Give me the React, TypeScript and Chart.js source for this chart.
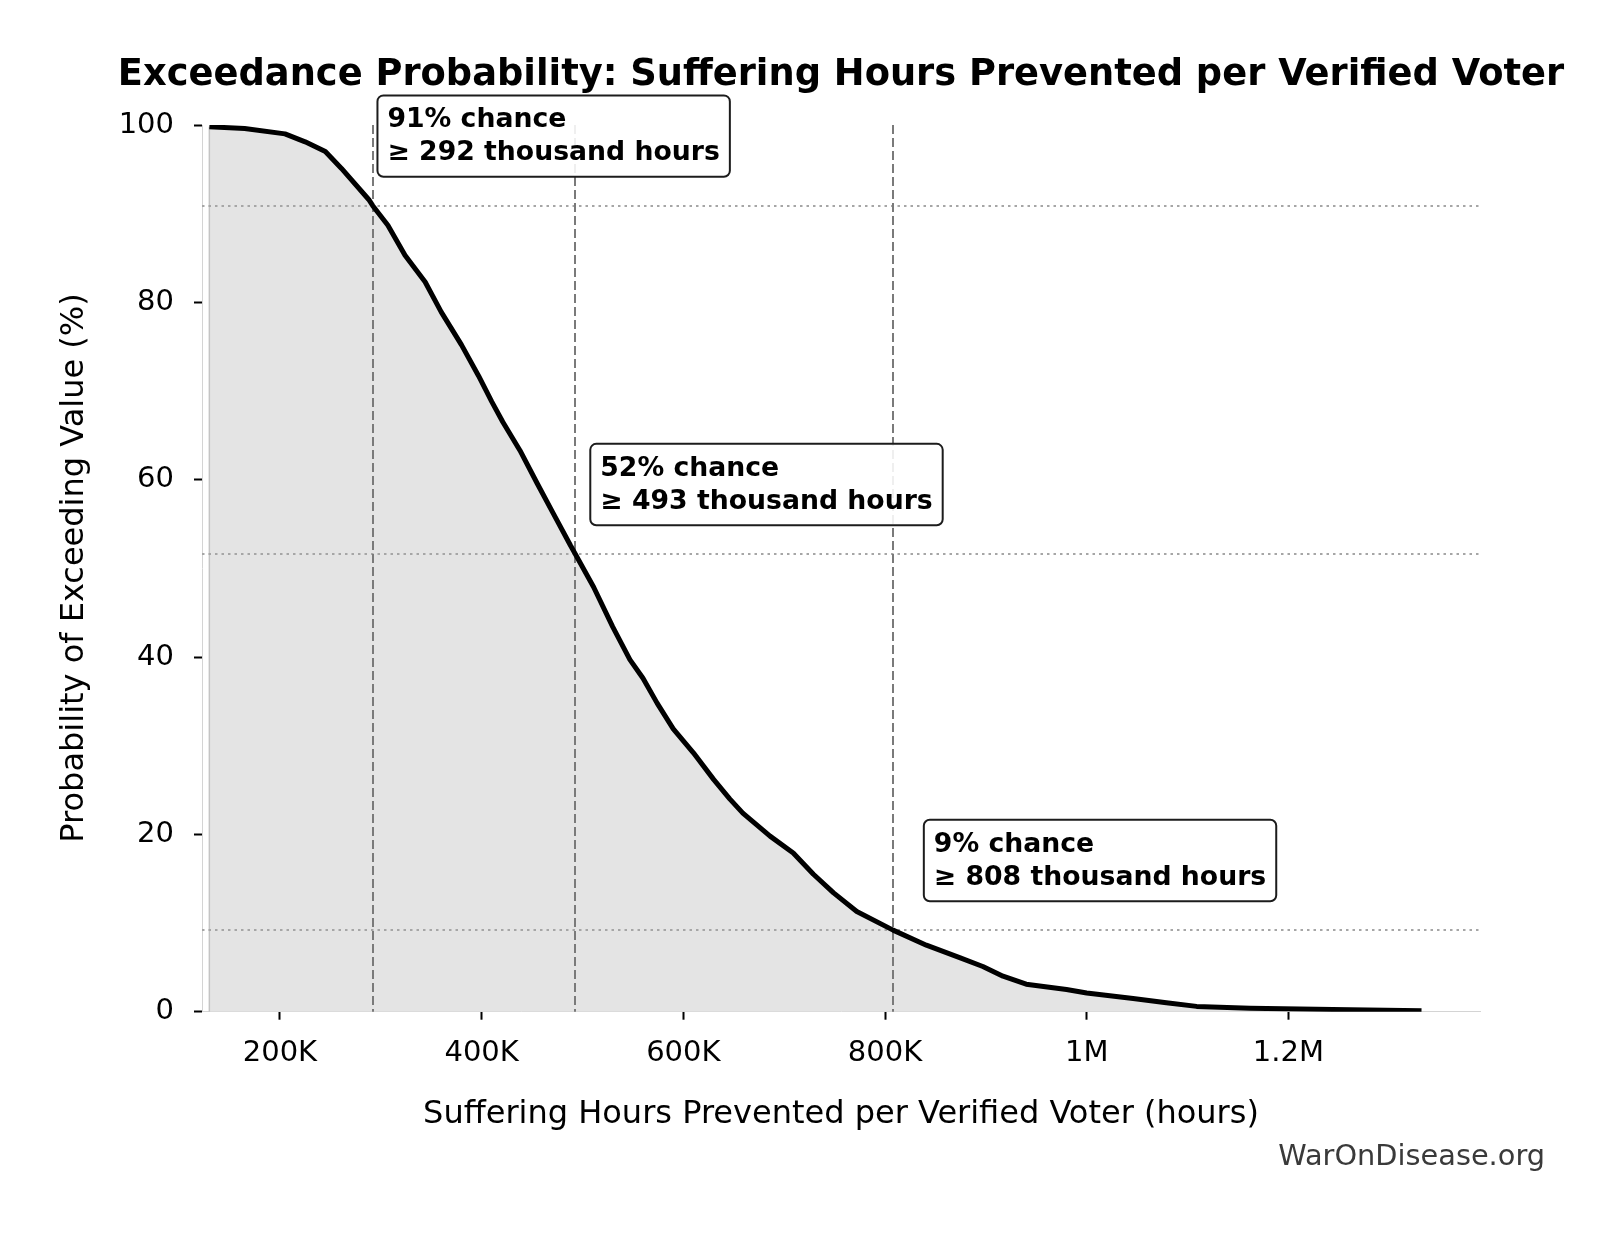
import React, { useEffect, useRef } from "react";
import { Chart, registerables } from "chart.js";

Chart.register(...registerables);

// Exceedance curve: hours prevented (thousands) vs probability of exceeding (%)
const hoursK = [
  130, 165, 205, 225, 245, 261, 288, 292, 307, 324, 344, 360, 380, 397, 410, 421,
  438, 455, 471, 488, 493, 511, 530, 547, 560, 574, 590, 610, 630, 646, 659, 686,
  709, 729, 749, 772, 808, 841, 874, 897, 917, 940, 980, 1000, 1046, 1079, 1109,
  1162, 1244, 1332,
];
const exceedPct = [
  99.8, 99.6, 99.0, 98.1, 97.0, 95.1, 91.6, 90.9, 88.7, 85.3, 82.3, 78.9, 75.2, 71.7,
  68.8, 66.5, 63.3, 59.6, 56.2, 52.6, 51.6, 47.9, 43.4, 39.7, 37.6, 34.8, 31.9, 29.2,
  26.2, 24.0, 22.4, 19.8, 17.9, 15.5, 13.4, 11.3, 9.2, 7.5, 6.1, 5.1, 4.0, 3.1, 2.5,
  2.1, 1.5, 1.0, 0.6, 0.4, 0.25, 0.1,
];

// Highlighted thresholds (hours in thousands, probability in %)
const markerHoursK = [292, 493, 808];
const markerPct = [90.9, 51.6, 9.2];

// Axis ticks
const xTickValues = [200000, 400000, 600000, 800000, 1000000, 1200000];
const xTickLabels = ["200K", "400K", "600K", "800K", "1M", "1.2M"];
const yTickValues = [0, 20, 40, 60, 80, 100];

const TITLE = "Exceedance Probability: Suffering Hours Prevented per Verified Voter";
const X_LABEL = "Suffering Hours Prevented per Verified Voter (hours)";
const Y_LABEL = "Probability of Exceeding Value (%)";
const WATERMARK = "WarOnDisease.org";

const FONT = '"DejaVu Sans", "Liberation Sans", sans-serif';
const W = 1623;
const H = 1233;

const points = hoursK.map((h, i) => ({ x: h * 1000, y: exceedPct[i] }));

const overlayPlugin = {
  id: "exceedanceOverlay",
  beforeDatasetDraw(chart: any, args: any) {
    if (args.index !== 0) return;
    const { ctx, chartArea: a } = chart;
    const xs = chart.scales.x;
    const ys = chart.scales.y;
    ctx.save();

    // left edge of the shaded area
    const x0 = xs.getPixelForValue(points[0].x);
    ctx.strokeStyle = "#c4c4c4";
    ctx.lineWidth = 1.5;
    ctx.beginPath();
    ctx.moveTo(x0, ys.getPixelForValue(points[0].y));
    ctx.lineTo(x0, a.bottom);
    ctx.stroke();

    // horizontal dotted guides at each probability level
    ctx.setLineDash([2.5, 4]);
    ctx.strokeStyle = "#a6a6a6";
    ctx.lineWidth = 2;
    markerPct.forEach((p) => {
      const yp = Math.round(ys.getPixelForValue(p));
      ctx.beginPath();
      ctx.moveTo(a.left, yp);
      ctx.lineTo(a.right, yp);
      ctx.stroke();
    });

    // vertical dashed guides at each threshold
    ctx.setLineDash([9, 4]);
    ctx.strokeStyle = "#7a7a7a";
    ctx.lineWidth = 2;
    markerHoursK.forEach((h) => {
      const xp = Math.round(xs.getPixelForValue(h * 1000));
      ctx.beginPath();
      ctx.moveTo(xp, a.top);
      ctx.lineTo(xp, a.bottom);
      ctx.stroke();
    });
    ctx.restore();
  },
  afterDraw(chart: any) {
    const { ctx, chartArea: a } = chart;
    const xs = chart.scales.x;
    const ys = chart.scales.y;
    ctx.save();

    // annotation boxes
    const fs = 26.7;
    ctx.font = `bold ${fs}px ${FONT}`;
    markerHoursK.forEach((h, i) => {
      const lines = [`${Math.round(markerPct[i])}% chance`, `\u2265 ${h} thousand hours`];
      const tx = xs.getPixelForValue(h * 1000 * 1.05);
      const cy = ys.getPixelForValue(markerPct[i] + 7.85);
      const pad = 10;
      const bw = Math.max(...lines.map((l) => ctx.measureText(l).width)) + pad * 2;
      const bh = 81.4;
      const left = tx - pad;
      const top = cy - bh / 2;
      ctx.beginPath();
      ctx.roundRect(left, top, bw, bh, 6);
      ctx.fillStyle = "rgba(255,255,255,0.88)";
      ctx.fill();
      ctx.strokeStyle = "#1c1c1c";
      ctx.lineWidth = 2;
      ctx.stroke();
      ctx.fillStyle = "#000";
      ctx.textAlign = "left";
      ctx.textBaseline = "alphabetic";
      ctx.fillText(lines[0], tx, top + 31.7);
      ctx.fillText(lines[1], tx, top + 64.7);
    });

    const cx = (a.left + a.right) / 2;

    // title
    ctx.fillStyle = "#000";
    ctx.font = `bold 36.8px ${FONT}`;
    ctx.textAlign = "center";
    ctx.textBaseline = "alphabetic";
    ctx.fillText(TITLE, cx, 85);

    // axis titles
    ctx.font = `32px ${FONT}`;
    ctx.textBaseline = "middle";
    ctx.fillText(X_LABEL, cx, 1115);
    ctx.save();
    ctx.translate(74.5, 568);
    ctx.rotate(-Math.PI / 2);
    ctx.fillText(Y_LABEL, 0, 0);
    ctx.restore();

    // site credit
    ctx.font = `28.8px ${FONT}`;
    ctx.fillStyle = "#3a3a3a";
    ctx.textAlign = "right";
    ctx.fillText(WATERMARK, 1545, 1158);
    ctx.restore();
  },
};

export default function App() {
  const canvasRef = useRef<HTMLCanvasElement | null>(null);

  useEffect(() => {
    const canvas = canvasRef.current;
    if (!canvas) return;
    const chart = new Chart(canvas, {
      type: "line",
      data: {
        datasets: [
          {
            data: points,
            borderColor: "#000",
            borderWidth: 5,
            pointRadius: 0,
            fill: false,
            tension: 0,
            borderJoinStyle: "round",
          },
          {
            data: points,
            borderWidth: 0,
            borderColor: "rgba(0,0,0,0)",
            backgroundColor: "#e4e4e4",
            pointRadius: 0,
            fill: "origin",
            tension: 0,
          },
        ],
      },
      options: {
        animation: false,
        responsive: false,
        devicePixelRatio: 1,
        layout: { padding: { left: 0, top: 125, right: 143, bottom: 0 }, autoPadding: false },
        plugins: {
          legend: { display: false },
          tooltip: { enabled: false },
          title: { display: false },
        },
        scales: {
          x: {
            type: "linear",
            min: 122700,
            max: 1390000,
            afterBuildTicks: (s: any) => {
              s.ticks = xTickValues.map((v) => ({ value: v }));
            },
            afterFit: (s: any) => {
              s.height = 221.3;
            },
            ticks: {
              autoSkip: false,
              maxRotation: 0,
              padding: 16,
              color: "#000",
              font: { family: FONT, size: 29 },
              callback: (v: any) => {
                const i = xTickValues.indexOf(Number(v));
                return i >= 0 ? xTickLabels[i] : "";
              },
            },
            grid: {
              display: true,
              drawOnChartArea: false,
              drawTicks: true,
              tickLength: 8,
              tickWidth: 2,
              tickColor: "#000",
            },
            border: { display: true, color: "#d4d4d4", width: 1 },
          },
          y: {
            type: "linear",
            min: 0,
            max: 100,
            afterBuildTicks: (s: any) => {
              s.ticks = yTickValues.map((v) => ({ value: v }));
            },
            afterFit: (s: any) => {
              s.width = 202;
            },
            ticks: {
              padding: 20,
              color: "#000",
              font: { family: FONT, size: 29 },
            },
            grid: {
              display: true,
              drawOnChartArea: false,
              drawTicks: true,
              tickLength: 8,
              tickWidth: 2,
              tickColor: "#000",
            },
            border: { display: true, color: "#d4d4d4", width: 1 },
          },
        },
      },
      plugins: [overlayPlugin],
    } as any);
    return () => chart.destroy();
  }, []);

  return (
    <div style={{ position: "absolute", left: 0, top: 0, width: W, height: H, background: "#fff" }}>
      <canvas ref={canvasRef} width={W} height={H} style={{ display: "block", width: W, height: H }} />
    </div>
  );
}
